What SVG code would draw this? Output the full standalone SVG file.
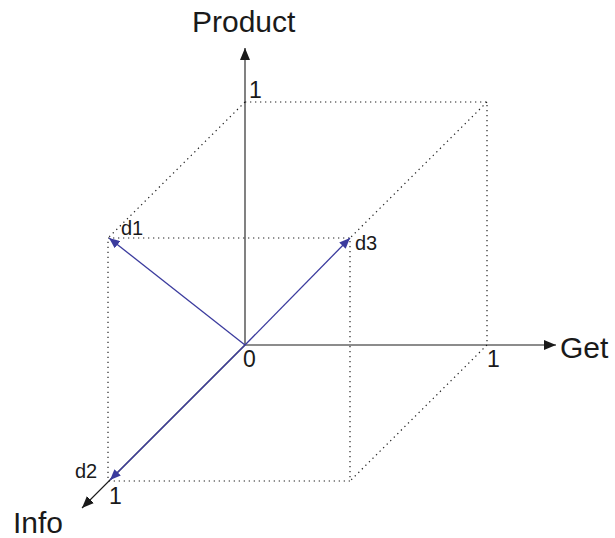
<svg xmlns="http://www.w3.org/2000/svg" width="615" height="538" viewBox="0 0 615 538">
<style>
.ax{stroke:#1a1a1a;stroke-width:1.1;fill:none}
.vec{stroke:#3b3b9e;stroke-width:1.3;fill:none}
.dot{stroke:#222;stroke-width:1.2;stroke-dasharray:1.3 3.7;fill:none}
text{font-family:"Liberation Sans",Arial,sans-serif;fill:#1a1a1a}
.big{font-size:30px}
.num{font-size:23px}
.lab{font-size:20px}
</style>
<defs>
<marker id="ak" viewBox="0 0 12 10" refX="12" refY="5" markerWidth="12" markerHeight="10" markerUnits="userSpaceOnUse" orient="auto">
<path d="M0,0 L12,5 L0,10 Z" fill="#1a1a1a"/>
</marker>
<marker id="ab" viewBox="0 0 12 10" refX="12" refY="5" markerWidth="11" markerHeight="9" markerUnits="userSpaceOnUse" orient="auto">
<path d="M0,0 L12,5 L0,10 Z" fill="#3b3b9e"/>
</marker>
</defs>
<g id="cube">
<path class="dot" d="M245,102 H487 V345"/>
<path class="dot" d="M108,238 H350 V481 H108 Z"/>
<path class="dot" d="M245,102 L108,238"/>
<path class="dot" d="M487,102 L350,238"/>
<path class="dot" d="M487,345 L350,481"/>
</g>
<g id="connectors">
<line id="axis-product" class="ax" x1="245" y1="345" x2="245" y2="48" marker-end="url(#ak)"/>
<line id="axis-get" class="ax" x1="245" y1="345" x2="556" y2="345" marker-end="url(#ak)"/>
<line id="axis-info" class="ax" x1="245" y1="345" x2="82" y2="508" marker-end="url(#ak)"/>
<line id="vec-d1" class="vec" x1="245" y1="345" x2="109" y2="238" marker-end="url(#ab)"/>
<line id="vec-d3" class="vec" x1="245" y1="345" x2="350" y2="238" marker-end="url(#ab)"/>
<line id="vec-d2" class="vec" x1="245" y1="345" x2="110" y2="480" marker-end="url(#ab)"/>
</g>
<g id="labels">
<text class="big" x="192" y="32">Product</text>
<text class="big" x="560" y="358">Get</text>
<text class="big" x="13" y="533">Info</text>
<text class="num" x="249" y="98">1</text>
<text class="num" x="243" y="367">0</text>
<text class="num" x="487" y="367">1</text>
<text class="num" x="109" y="504">1</text>
<text class="lab" x="121" y="235">d1</text>
<text class="lab" x="355" y="250">d3</text>
<text class="lab" x="75" y="478">d2</text>
</g>
</svg>
